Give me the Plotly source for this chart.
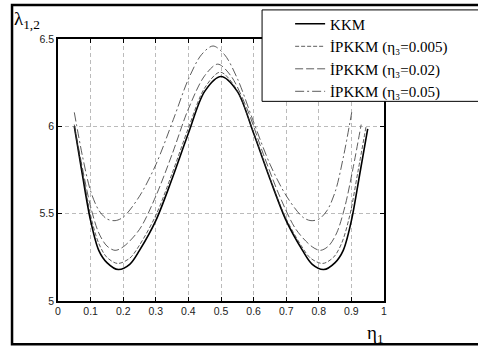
import plotly.graph_objects as go

# ---- data ----
eta_kkm = [0.05, 0.075, 0.10, 0.125, 0.15, 0.185, 0.22, 0.25, 0.30, 0.35, 0.40, 0.45, 0.50,
           0.55, 0.60, 0.65, 0.70, 0.75, 0.78, 0.815, 0.85, 0.875, 0.90, 0.925, 0.95]
lam_kkm = [6.00, 5.72, 5.46, 5.29, 5.22, 5.18, 5.21, 5.29, 5.46, 5.70, 5.96, 6.20, 6.285,
           6.20, 5.96, 5.70, 5.46, 5.29, 5.21, 5.18, 5.22, 5.29, 5.46, 5.72, 5.985]

eta_a = [0.05, 0.075, 0.10, 0.125, 0.15, 0.183, 0.22, 0.25, 0.30, 0.35, 0.40, 0.45, 0.4975,
         0.545, 0.595, 0.645, 0.695, 0.745, 0.775, 0.812, 0.845, 0.87, 0.895, 0.92, 0.945]
lam_a = [6.00, 5.74, 5.49, 5.33, 5.25, 5.215, 5.245, 5.32, 5.49, 5.73, 5.99, 6.22, 6.31,
         6.22, 5.99, 5.73, 5.49, 5.32, 5.245, 5.215, 5.25, 5.33, 5.49, 5.74, 6.00]

eta_b = [0.05, 0.075, 0.10, 0.125, 0.15, 0.175, 0.20, 0.25, 0.30, 0.35, 0.40, 0.45, 0.49,
         0.53, 0.58, 0.63, 0.68, 0.73, 0.78, 0.805, 0.83, 0.855, 0.88, 0.905, 0.93]
lam_b = [6.01, 5.76, 5.54, 5.39, 5.315, 5.29, 5.31, 5.41, 5.60, 5.84, 6.10, 6.29, 6.356,
         6.29, 6.10, 5.84, 5.60, 5.41, 5.31, 5.29, 5.315, 5.39, 5.54, 5.76, 6.01]

eta_c = [0.05, 0.075, 0.10, 0.125, 0.15, 0.175, 0.20, 0.25, 0.30, 0.354, 0.40, 0.44, 0.4755,
         0.511, 0.551, 0.597, 0.651, 0.701, 0.751, 0.776, 0.801, 0.826, 0.851, 0.876, 0.901]
lam_c = [6.08, 5.83, 5.63, 5.52, 5.47, 5.46, 5.48, 5.60, 5.78, 6.04, 6.27, 6.41, 6.46,
         6.41, 6.27, 6.04, 5.78, 5.60, 5.48, 5.46, 5.47, 5.52, 5.63, 5.83, 6.08]

series_names = ["KKM", "İPKKM (η₃=0.005)", "İPKKM (η₃=0.02)", "İPKKM (η₃=0.05)"]
x_ticks = [0, 0.1, 0.2, 0.3, 0.4, 0.5, 0.6, 0.7, 0.8, 0.9, 1]
y_ticks = [5, 5.5, 6, 6.5]

# ---- figure ----
fig = go.Figure()
styles = [
    dict(color="black", width=1.6, dash="solid"),
    dict(color="#333333", width=0.8, dash="4px,2px"),
    dict(color="#333333", width=0.8, dash="8px,3px"),
    dict(color="#333333", width=0.8, dash="9px,3px,2px,3px"),
]
for xs, ys, name, st in zip([eta_kkm, eta_a, eta_b, eta_c], [lam_kkm, lam_a, lam_b, lam_c],
                            series_names, styles):
    fig.add_trace(go.Scatter(x=xs, y=ys, mode="lines", name=name,
                             line=dict(shape="spline", smoothing=0.9, **st)))

# outer frame and legend box (paper coordinates)
fig.add_shape(type="rect", xref="paper", yref="paper", x0=-0.141, x1=1.30, y0=-0.1655, y1=1.13,
              line=dict(color="black", width=2.5), fillcolor="rgba(0,0,0,0)", layer="above")
fig.add_shape(type="rect", xref="paper", yref="paper", x0=0.626, x1=1.32, y0=0.762, y1=1.111,
              line=dict(color="black", width=1), fillcolor="white", layer="above")

fig.add_annotation(text="λ<sub>1,2</sub>", xref="paper", yref="paper", x=-0.142, y=1.125,
                   xanchor="left", yanchor="top", showarrow=False,
                   font=dict(family="Liberation Serif", size=19, color="black"))
fig.add_annotation(text="η<sub>1</sub>", xref="paper", yref="paper", x=0.942, y=-0.127,
                   xanchor="left", yanchor="middle", showarrow=False,
                   font=dict(family="Liberation Serif", size=19, color="black"))

axis_common = dict(showline=True, linecolor="black", linewidth=1.5, mirror="ticks",
                   ticks="inside", ticklen=4, tickcolor="black",
                   showgrid=True, gridcolor="#bbbbbb", griddash="4px,3px", gridwidth=1,
                   zeroline=False,
                   tickfont=dict(family="Liberation Sans", size=10.5, color="#222"))
fig.update_xaxes(range=[0, 1], tickvals=x_ticks, **axis_common)
fig.update_yaxes(range=[5, 6.5], tickvals=y_ticks, **axis_common)

fig.update_layout(
    width=478, height=347,
    margin=dict(l=58, r=94, t=39, b=46, autoexpand=False),
    paper_bgcolor="white", plot_bgcolor="white",
    showlegend=True,
    legend=dict(x=0.712, y=1.12, xanchor="left", yanchor="top",
                bgcolor="rgba(0,0,0,0)", borderwidth=0,
                font=dict(family="Liberation Serif", size=15, color="black"),
                tracegroupgap=0),
)

fig.write_html("out.html")
